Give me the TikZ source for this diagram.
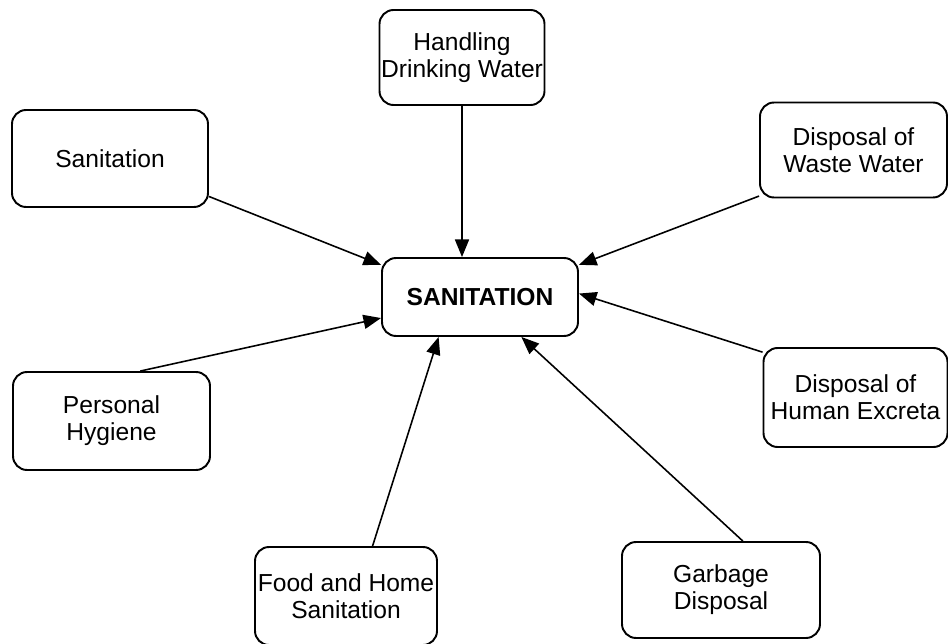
\documentclass[tikz,border=0pt]{standalone}
\usepackage{fontspec}
\setmainfont{Liberation Sans}
\usepackage{tikz}
\usetikzlibrary{arrows.meta}

\begin{document}
\begin{tikzpicture}
  [cbox/.style={draw, rounded corners=8pt, line width=1.1pt, align=center,
                font=\fontsize{14}{15.5}\selectfont, inner sep=0},
   feed/.style={line width=0.9pt, -{Triangle[length=10pt, width=8pt]}}]

  \useasboundingbox (0, 0) rectangle (18.96, -12.88);

  % centre box
  \node[cbox, minimum width=3.92cm, minimum height=1.56cm,
        font=\fontsize{14}{15.5}\selectfont\bfseries] (main) at (9.6, -5.94) {SANITATION};

  % outer boxes
  \node[cbox, minimum width=3.3cm, minimum height=1.9cm] (handling) at (9.24, -1.15)
        {Handling\\Drinking Water};
  \node[cbox, minimum width=3.92cm, minimum height=1.94cm] (sanit) at (2.2, -3.17)
        {Sanitation};
  \node[cbox, minimum width=3.74cm, minimum height=1.9cm] (waste) at (17.07, -3.0)
        {Disposal of\\Waste Water};
  \node[cbox, minimum width=3.94cm, minimum height=1.96cm] (hygiene) at (2.23, -8.42)
        {Personal\\Hygiene};
  \node[cbox, minimum width=3.68cm, minimum height=1.98cm] (excreta) at (17.11, -7.95)
        {Disposal of\\Human Excreta};
  \node[cbox, minimum width=3.64cm, minimum height=1.96cm] (food) at (6.92, -11.92)
        {Food and Home\\Sanitation};
  \node[cbox, minimum width=3.96cm, minimum height=1.92cm] (garbage) at (14.42, -11.8)
        {Garbage\\Disposal};

  % arrows into the centre
  \draw[feed] (handling.south) -- (handling.south |- main.north);
  \draw[feed] (sanit.-21) -- (main.162);
  \draw[feed] (waste.-154) -- (main.18);
  \draw[feed] (excreta.154) -- (main.2);
  \draw[feed] (hygiene.60) -- (main.192);
  \draw[feed] (food.62) -- (main.224);
  \draw[feed] (garbage.66) -- (main.-44);
\end{tikzpicture}
\end{document}
